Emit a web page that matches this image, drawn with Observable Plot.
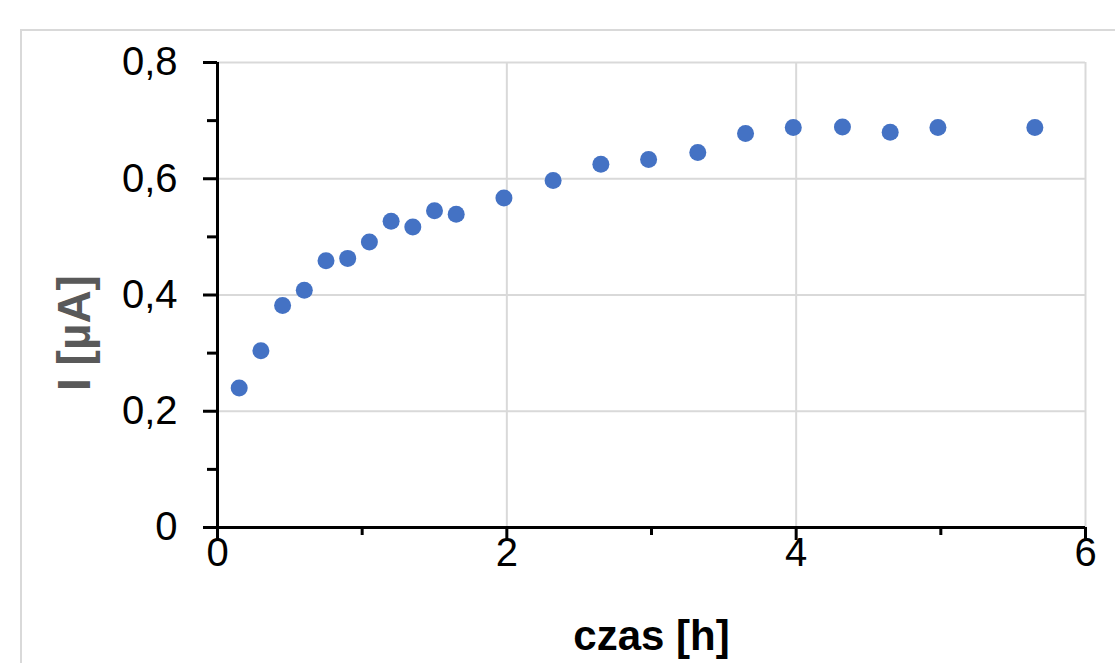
<!DOCTYPE html>
<html>
<head>
<meta charset="utf-8">
<script src="https://cdn.jsdelivr.net/npm/d3@7"></script>
<script src="https://cdn.jsdelivr.net/npm/@observablehq/plot@0.6"></script>
<style>
  html, body { margin: 0; padding: 0; background: #fff; }
  #chart svg { display: block; }
</style>
</head>
<body>
<div id="chart"></div>
<script>
// Data
const czas = [0.15, 0.30, 0.45, 0.60, 0.75, 0.90, 1.05, 1.20, 1.35, 1.50, 1.65,
              1.98, 2.32, 2.65, 2.98, 3.32, 3.65, 3.98, 4.32, 4.65, 4.98, 5.65];
const prad = [0.240, 0.304, 0.382, 0.408, 0.459, 0.463, 0.491, 0.527, 0.517, 0.545, 0.539,
              0.567, 0.597, 0.625, 0.633, 0.645, 0.678, 0.688, 0.689, 0.680, 0.688, 0.688];
const xMajorTicks = [0, 2, 4, 6];
const xMinorTicks = [1, 3, 5];
const yMajorTicks = [0, 0.2, 0.4, 0.6, 0.8];
const yMinorTicks = [0.1, 0.3, 0.5, 0.7];
const xTitle = "czas [h]";
const yTitle = "I [µA]";

const data = czas.map((t, i) => ({t, i: prad[i]}));
const fmtY = d => d === 0 ? "0" : d3.format(".1f")(d).replace(".", ",");
const fmtX = d => String(d);
const font = "'Liberation Sans', Arial, sans-serif";

const chart = Plot.plot({
  width: 1115,
  height: 663,
  marginLeft: 217,
  marginRight: 30,
  marginTop: 62,
  marginBottom: 136,
  style: {fontFamily: font, background: "#fff", color: "#000"},
  x: {domain: [0, 6]},
  y: {domain: [0, 0.8]},
  marks: [
    Plot.gridY(yMajorTicks.filter(d => d > 0), {stroke: "#d9d9d9", strokeOpacity: 1, strokeWidth: 2}),
    Plot.gridX(xMajorTicks.filter(d => d > 0), {stroke: "#d9d9d9", strokeOpacity: 1, strokeWidth: 2}),
    // tick marks
    Plot.axisY({ticks: yMajorTicks, tickSize: 14, text: null, label: null, stroke: "#000", strokeWidth: 3}),
    Plot.axisY({ticks: yMinorTicks, tickSize: 10, text: null, label: null, stroke: "#000", strokeWidth: 3}),
    Plot.axisX({ticks: xMajorTicks, tickSize: 13, text: null, label: null, stroke: "#000", strokeWidth: 3}),
    Plot.axisX({ticks: xMinorTicks, tickSize: 8, text: null, label: null, stroke: "#000", strokeWidth: 3}),
    // tick labels
    Plot.axisY({ticks: yMajorTicks, tickSize: 0, tickPadding: 40, tickFormat: fmtY, label: null,
                fontSize: 40, fill: "#000"}),
    Plot.axisX({ticks: xMajorTicks, tickSize: 0, tickPadding: 10, tickFormat: fmtX, label: null,
                fontSize: 40, fill: "#000"}),
    // axis lines
    Plot.ruleX([0], {stroke: "#000", strokeWidth: 3}),
    Plot.ruleY([0], {stroke: "#000", strokeWidth: 3}),
    // data
    Plot.dot(data, {x: "t", y: "i", r: 8.5, fill: "#4472C4", stroke: null}),
    // titles
    Plot.text([xTitle], {frameAnchor: "bottom", dy: 109, fontSize: 42, fontWeight: "bold",
                         fill: "#000", lineAnchor: "middle"}),
    Plot.text([yTitle], {frameAnchor: "left", dx: -142, dy: 96, rotate: -90, fontSize: 46,
                         fontWeight: "bold", fill: "#595959", lineAnchor: "middle"})
  ]
});

// outer chart-area border (light gray), cropped by the picture edges
d3.select(chart).insert("rect", ":first-child")
  .attr("x", 21).attr("y", 30).attr("width", 1200).attr("height", 700)
  .attr("fill", "none").attr("stroke", "#d9d9d9").attr("stroke-width", 2);

document.getElementById("chart").appendChild(chart);
</script>
</body>
</html>
